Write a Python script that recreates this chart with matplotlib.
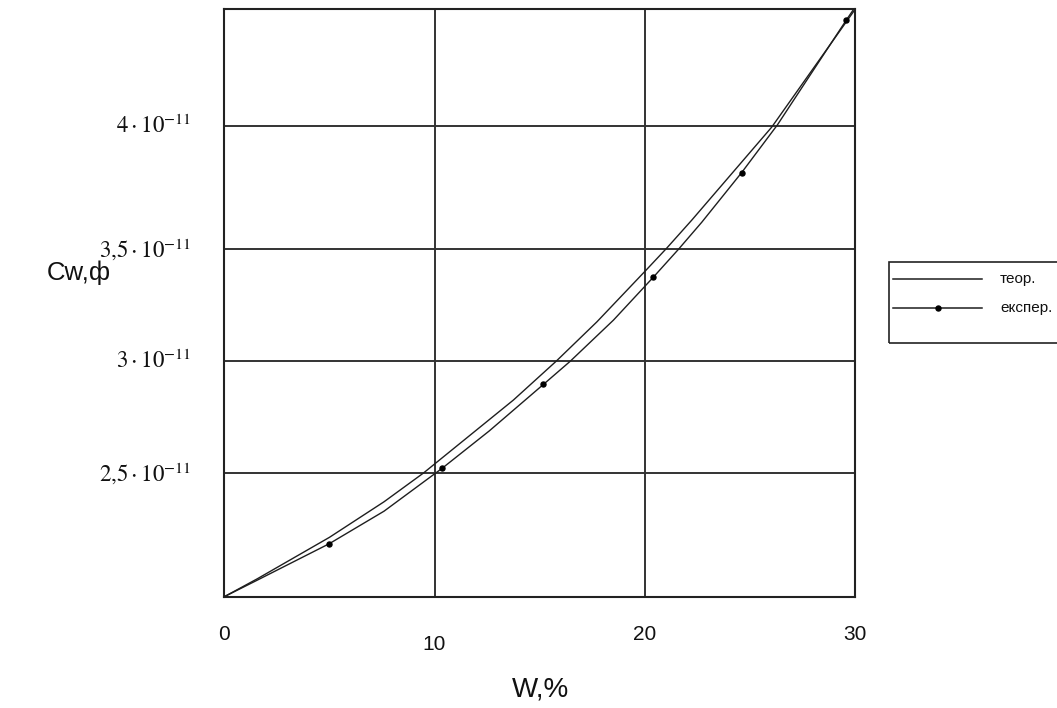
import matplotlib
matplotlib.use("Agg")
import matplotlib.pyplot as plt
from matplotlib.lines import Line2D
from matplotlib.patches import Rectangle
import matplotlib.transforms as mtransforms

# theoretical curve (W in %, C in 1e-11 F)
w_teor = [0.0, 1.57, 5.0, 7.6, 9.47, 13.75, 15.78, 17.72, 20.06, 21.05, 22.24, 26.04, 30.0]
c_teor = [1.948, 2.028, 2.213, 2.372, 2.500, 2.826, 2.999, 3.175, 3.406, 3.505, 3.630, 4.045, 4.57]

# experimental curve; the measured points are marked
w_exp = [0.0, 1.57, 5.0, 7.6, 10.37, 12.6, 15.18, 16.45, 18.51, 20.41, 21.6, 22.71, 24.61, 26.31, 29.58, 30.0]
c_exp = [1.948, 2.022, 2.185, 2.330, 2.522, 2.688, 2.896, 2.999, 3.183, 3.375, 3.499, 3.620, 3.842, 4.055, 4.522, 4.58]
measured = [2, 4, 6, 9, 12, 14]

xticks = [0, 10, 20, 30]
# gridline places as drawn in the reference (its top step is a bit wider)
ytick_pos = [2.5, 3.0, 3.5, 4.05]
ytick_lab = [r"$2{,}5\cdot10^{-11}$", r"$3\cdot10^{-11}$", r"$3{,}5\cdot10^{-11}$", r"$4\cdot10^{-11}$"]
leg_labels = ["теор.", "експер."]

SANS = ["Liberation Sans", "DejaVu Sans"]
plt.rcParams["mathtext.fontset"] = "stix"

W, H = 1057, 708
fig = plt.figure(figsize=(W / 100, H / 100), dpi=100)
fig.patch.set_facecolor("white")
ax = fig.add_axes([224.3 / W, 1 - 596.7 / H, (855 - 224.3) / W, (596.7 - 9.3) / H])

ax.plot(w_teor, c_teor, color="#1e1e1e", lw=1.0, zorder=3)
ax.plot(w_exp, c_exp, color="#1e1e1e", lw=1.0, marker="o", ms=3.6,
        markevery=measured, mfc="black", mec="black", zorder=3)

ax.set_xlim(0, 30)
ax.set_ylim(1.948, 4.571)
ax.set_xticks(xticks)
ax.set_yticks(ytick_pos)
ax.tick_params(length=0, labelbottom=False, labelleft=False)
ax.grid(True, color="#333333", lw=1.4, zorder=1)
for sp in ax.spines.values():
    sp.set_color("#222222")
    sp.set_linewidth(1.5)

# tick labels placed by hand (Mathcad-style offsets)
xlab_dy = [0, -10, 0, 0]
bt = mtransforms.blended_transform_factory(ax.transData, fig.transFigure)
for x, dy in zip(xticks, xlab_dy):
    ax.text(x, 1 - (635 - dy) / H, str(x), transform=bt, ha="center", va="center",
            fontsize=15, family=SANS, color="#111")

bty = mtransforms.blended_transform_factory(fig.transFigure, ax.transData)
for y, lab in zip(ytick_pos, ytick_lab):
    ax.text(191 / W, y, lab, transform=bty, ha="right", va="center", fontsize=16.5, color="#111")

fig.text(541 / W, 1 - 690 / H, "W,%", ha="center", va="center", fontsize=20, family=SANS, color="#111")
fig.text(79 / W, 1 - 273 / H, "Cw,ф", ha="center", va="center", fontsize=18.5, family=SANS, color="#111")

# legend box on the right
fig.patches.append(Rectangle((889 / W, 1 - 343 / H), (1060 - 889) / W, 81 / H,
                             transform=fig.transFigure, fill=False, ec="#222", lw=1.2))
for i, (yy, lab) in enumerate(zip([279, 308], leg_labels)):
    fig.lines.append(Line2D([893 / W, 982 / W], [1 - yy / H] * 2, transform=fig.transFigure,
                            color="#1e1e1e", lw=1.1))
    if i == 1:
        fig.lines.append(Line2D([938 / W], [1 - yy / H], transform=fig.transFigure, marker="o",
                                ms=3.6, color="black", lw=0))
    fig.text(1000 / W, 1 - yy / H, lab, ha="left", va="center", fontsize=11, family=SANS, color="#111")

fig.savefig("out.png", dpi=100)
